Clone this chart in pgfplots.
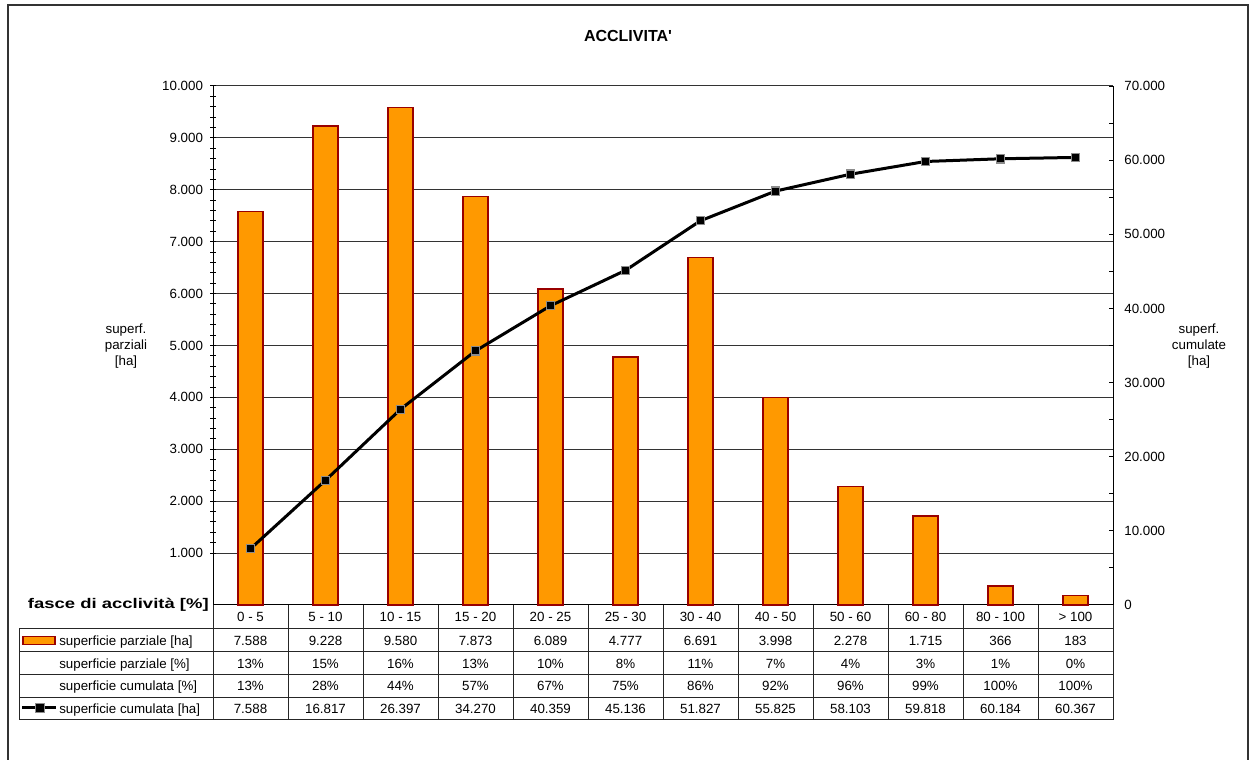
\documentclass[border=0pt]{standalone}
\usepackage{fontspec}
\setmainfont{Liberation Sans}
\usepackage{pgfplots}
\usepackage{pgfplotstable}
\pgfplotsset{compat=1.18}

\definecolor{barfill}{HTML}{FF9900}
\definecolor{baredge}{HTML}{990000}
\pgfkeys{/pgf/number format/.cd, 1000 sep={.}, assume math mode=true}

% classi di acclivita: superficie parziale [ha], [%], cumulata [%], cumulata [ha]
\pgfplotstableread[col sep=comma]{
cat,parzha,parzpct,cumpct,cumha
0 - 5,7588,13,13,7588
5 - 10,9228,15,28,16817
10 - 15,9580,16,44,26397
15 - 20,7873,13,57,34270
20 - 25,6089,10,67,40359
25 - 30,4777,8,75,45136
30 - 40,6691,11,86,51827
40 - 50,3998,7,92,55825
50 - 60,2278,4,96,58103
60 - 80,1715,3,99,59818
80 - 100,366,1,100,60184
> 100,183,0,100,60367
}\acclivita

\begin{document}
\begin{tikzpicture}[every node/.style={font=\fontsize{10}{12}\selectfont}]
\begin{scope}[x=0.75pt,y=0.75pt]
\useasboundingbox (0,0) rectangle (1250,760);
% cornice
\draw[black!80, line width=1.5pt] (8,0) -- (8,755) -- (1248,755) -- (1248,0);
\end{scope}

\begin{axis}[
  at={(159.75pt,116.25pt)}, anchor=south west,
  width=675pt, height=389.25pt, scale only axis,
  xmin=-0.5, xmax=11.5, ymin=0, ymax=10000,
  axis x line*=bottom, axis y line*=left,
  xtick=\empty,
  ytick={1000,2000,...,10000},
  minor y tick num=4,
  tick align=center,
  major tick length=4pt, minor tick length=4pt,
  tick style={black, line width=0.75pt},
  ymajorgrids, major grid style={black!80, line width=0.75pt},
  axis line style={black, line width=0.75pt},
  ticklabel style={font=\fontsize{10}{12}\selectfont},
  yticklabel style={xshift=-2pt},
  scaled y ticks=false,
  clip=false,
]
\addplot[ybar, bar width=18.75pt, fill=barfill, draw=baredge, line width=1pt]
  table[x expr=\coordindex, y=parzha]{\acclivita};
\end{axis}

\begin{axis}[
  at={(159.75pt,116.25pt)}, anchor=south west,
  width=675pt, height=389.25pt, scale only axis,
  xmin=-0.5, xmax=11.5, ymin=0, ymax=70000,
  axis x line=none, axis y line*=right,
  ytick={0,10000,...,70000},
  minor y tick num=1,
  tick align=inside,
  major tick length=3pt, minor tick length=3pt,
  tick style={black, line width=0.75pt},
  axis line style={black, line width=0.75pt},
  ticklabel style={font=\fontsize{10}{12}\selectfont},
  yticklabel style={xshift=5pt},
  scaled y ticks=false,
  clip=false,
]
\addplot[black, line width=2.25pt, mark=square*, mark size=3.1pt,
  mark options={fill=black, draw=black!45, line width=0.9pt}]
  table[x expr=\coordindex, y=cumha]{\acclivita};
\end{axis}

\begin{scope}[x=0.75pt,y=0.75pt]
% titoli
\node[font=\bfseries\fontsize{12}{14}\selectfont, anchor=base] at (628,718) {ACCLIVITA\textquotesingle};
\node[align=center] at (126,414) {superf.\\parziali\\{[ha]}};
\node[align=center] at (1199,414) {superf.\\cumulate\\{[ha]}};
\node[font=\bfseries\fontsize{10.5}{12}\selectfont, anchor=base east, inner sep=0pt] at (209,151) {\scalebox{1.32}[1]{fasce di acclività [\%]}};

% tabella dati
\begin{scope}[black!85, line width=0.75pt]
\foreach \k in {0,...,12} {
  \draw ({213+75*\k},155) -- ({213+75*\k},40);
}
\draw (19,131) -- (19,40);
\foreach \yy in {131,108,85,62.5,40} {
  \draw (19,\yy) -- (1113,\yy);
}
\end{scope}

\foreach \i in {0,...,11} {
  \pgfplotstablegetelem{\i}{cat}\of\acclivita
  \node[anchor=base] at ({250.5+75*\i},138.2) {\pgfplotsretval};
  \pgfplotstablegetelem{\i}{parzha}\of\acclivita
  \node[anchor=base] at ({250.5+75*\i},114.7) {\pgfmathprintnumber{\pgfplotsretval}};
  \pgfplotstablegetelem{\i}{parzpct}\of\acclivita
  \node[anchor=base] at ({250.5+75*\i},91.7) {\pgfplotsretval\%};
  \pgfplotstablegetelem{\i}{cumpct}\of\acclivita
  \node[anchor=base] at ({250.5+75*\i},69.2) {\pgfplotsretval\%};
  \pgfplotstablegetelem{\i}{cumha}\of\acclivita
  \node[anchor=base] at ({250.5+75*\i},46.7) {\pgfmathprintnumber{\pgfplotsretval}};
}

\node[anchor=base west, inner sep=0pt] at (59,114.7) {superficie parziale [ha]};
\node[anchor=base west, inner sep=0pt] at (59,91.7) {superficie parziale [\%]};
\node[anchor=base west, inner sep=0pt] at (59,69.2) {superficie cumulata [\%]};
\node[anchor=base west, inner sep=0pt] at (59,46.7) {superficie cumulata [ha]};

% chiavi di legenda
\draw[fill=barfill, draw=baredge, line width=1pt] (23,115.5) rectangle (55,123.5);
\draw[black, line width=2.25pt] (22,52) -- (56,52);
\draw[fill=black, draw=black!45, line width=0.9pt] (35.5,47.5) rectangle (44.5,56.5);
\end{scope}
\end{tikzpicture}
\end{document}
